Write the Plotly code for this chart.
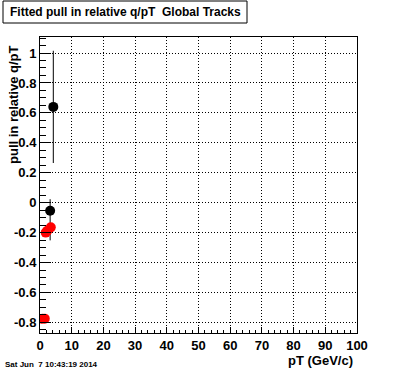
import plotly.graph_objects as go

# Data
black_x = [4.2, 3.2]
black_y = [0.64, -0.054]
black_err_up = [0.375, 0.077]
black_err_down = [0.375, 0.198]

red_x = [0.7, 1.5, 1.8, 2.3, 3.4]
red_y = [-0.775, -0.775, -0.2, -0.188, -0.165]

title_text = "Fitted pull in relative q/pT  Global Tracks"
x_title = "pT (GeV/c)"
y_title = "pull in relative q/pT"
date_text = "Sat Jun \u00a07 10:43:19 2014"

x_ticks = [0, 10, 20, 30, 40, 50, 60, 70, 80, 90, 100]
y_ticks = [-0.8, -0.6, -0.4, -0.2, 0, 0.2, 0.4, 0.6, 0.8, 1]
y_ticktext = ["-0.8", "-0.6", "-0.4", "-0.2", "0", "0.2", "0.4", "0.6", "0.8", "1"]

FONT = "Liberation Sans, Arial, Helvetica, sans-serif"

fig = go.Figure()
fig.add_trace(go.Scatter(
    x=black_x, y=black_y, mode="markers",
    marker=dict(color="black", size=10, symbol="circle"),
    error_y=dict(type="data", symmetric=False, array=black_err_up,
                 arrayminus=black_err_down, color="black", thickness=1, width=0),
    showlegend=False,
))
fig.add_trace(go.Scatter(
    x=red_x, y=red_y, mode="markers",
    marker=dict(color="#ff0000", size=10, symbol="circle"),
    showlegend=False,
))

axis_common = dict(
    showline=True, linecolor="black", linewidth=1, mirror=True,
    ticks="inside", tickcolor="black", tickwidth=1,
    showgrid=True, gridcolor="black", gridwidth=1, griddash="1px,2px",
    zeroline=False,
    tickfont=dict(family=FONT, size=13, color="black", weight="bold"),
)

fig.update_layout(
    width=396, height=372,
    margin=dict(l=40, r=39, t=37, b=39),
    paper_bgcolor="white", plot_bgcolor="white",
    xaxis=dict(range=[0, 100], tickvals=x_ticks, ticklen=6,
               minor=dict(ticks="inside", dtick=2, ticklen=3, tickcolor="black", showgrid=False),
               **axis_common),
    yaxis=dict(range=[-0.871, 1.107], tickvals=y_ticks, ticktext=y_ticktext, ticklen=11,
               minor=dict(ticks="inside", dtick=0.05, ticklen=6, tickcolor="black", showgrid=False),
               **axis_common),
    shapes=[dict(type="rect", xref="paper", yref="paper",
                 x0=(3 - 40) / 317, x1=(247 - 40) / 317,
                 y0=(333 - 23) / 296, y1=(333 - 1) / 296,
                 line=dict(color="black", width=1), fillcolor="white", layer="above")],
    annotations=[
        dict(text=title_text, xref="paper", yref="paper",
             x=(125 - 40) / 317, y=(333 - 12) / 296, xanchor="center", yanchor="middle",
             showarrow=False, font=dict(family=FONT, size=12, color="black", weight="bold")),
        dict(text=x_title, xref="paper", yref="paper",
             x=(355 - 40) / 317, y=(333 - 360) / 296, xanchor="right", yanchor="middle",
             showarrow=False, font=dict(family=FONT, size=13, color="black", weight="bold")),
        dict(text=y_title, xref="paper", yref="paper", textangle=-90,
             x=(13 - 40) / 317, y=(333 - 105) / 296, xanchor="center", yanchor="middle",
             showarrow=False, font=dict(family=FONT, size=13, color="black", weight="bold")),
        dict(text=date_text, xref="paper", yref="paper",
             x=(3 - 40) / 317, y=(333 - 364) / 296, xanchor="left", yanchor="middle",
             showarrow=False, font=dict(family=FONT, size=8, color="black", weight="bold")),
    ],
)

fig.write_html("out.html")
